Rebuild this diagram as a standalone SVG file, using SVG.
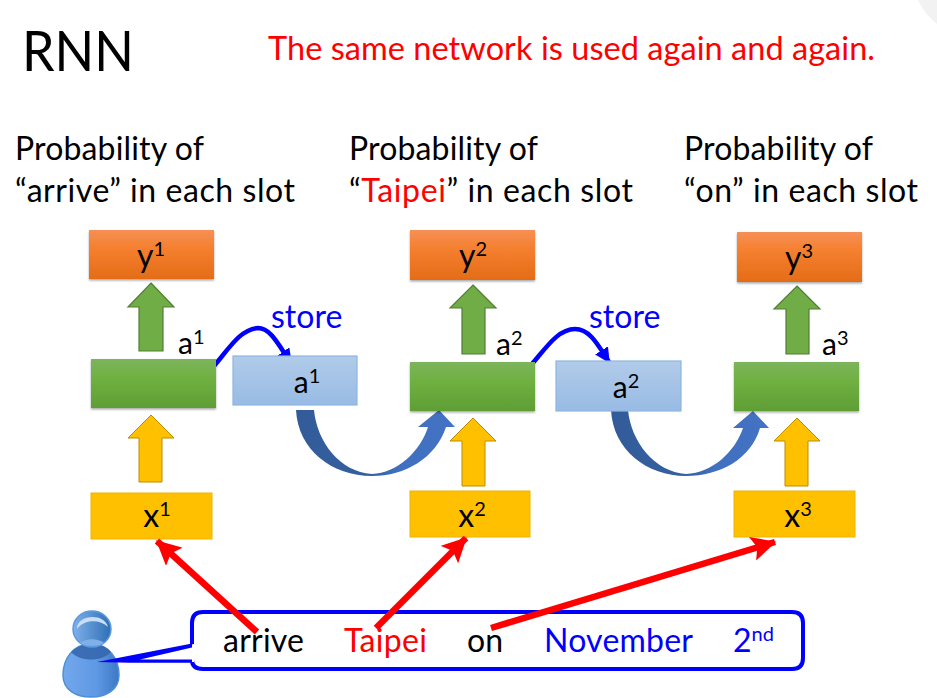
<svg xmlns="http://www.w3.org/2000/svg" width="937" height="698" viewBox="0 0 937 698">
<defs>
<linearGradient id="orange" x1="0" y1="0" x2="0" y2="1"><stop offset="0" stop-color="#f59056"/><stop offset="0.35" stop-color="#f58030"/><stop offset="1" stop-color="#e46c17"/></linearGradient>
<linearGradient id="green" x1="0" y1="0" x2="0" y2="1"><stop offset="0" stop-color="#7cb45c"/><stop offset="0.4" stop-color="#6fb040"/><stop offset="1" stop-color="#5f9e35"/></linearGradient>
<linearGradient id="blue" x1="0" y1="0" x2="0" y2="1"><stop offset="0" stop-color="#b1cbe9"/><stop offset="1" stop-color="#98bbe4"/></linearGradient>
<linearGradient id="arcg" x1="0" y1="0" x2="1" y2="0"><stop offset="0" stop-color="#335b9a"/><stop offset="0.45" stop-color="#34609f"/><stop offset="0.65" stop-color="#4070bf"/><stop offset="1" stop-color="#4472c4"/></linearGradient>
<linearGradient id="head" x1="0" y1="0" x2="1" y2="0"><stop offset="0" stop-color="#7fb0ea"/><stop offset="1" stop-color="#2f6fb5"/></linearGradient>
<linearGradient id="body" x1="0" y1="0" x2="1" y2="0"><stop offset="0" stop-color="#72a8ec"/><stop offset="0.6" stop-color="#5f98e4"/><stop offset="1" stop-color="#3c78c4"/></linearGradient>
<filter id="sh" x="-5%" y="-10%" width="110%" height="125%"><feDropShadow dx="0" dy="1.5" stdDeviation="1.2" flood-color="#000" flood-opacity="0.35"/></filter>
<marker id="bh" viewBox="0 0 10 10" refX="9" refY="5" markerWidth="3.4" markerHeight="3.4" markerUnits="strokeWidth" orient="auto"><path d="M0 0L10 5L0 10z" fill="#0000ff"/></marker>
<marker id="rh" viewBox="0 0 10 10" refX="9.5" refY="5" markerWidth="3.8" markerHeight="3.8" markerUnits="strokeWidth" orient="auto"><path d="M0 0L10 5L0 10L2 5z" fill="#ff0000"/></marker>
</defs>
<style>
text{font-family:Lato,"Open Sans","Liberation Sans",sans-serif;fill:#000}
.lbl{font-size:32px}
.nl{font-size:32px;text-anchor:middle}
.an{font-size:30px}
.sup{font-size:20px}
.o{fill:url(#orange);filter:url(#sh)}
.g{fill:url(#green);filter:url(#sh)}
.b{fill:url(#blue);stroke:#8db6e2;stroke-width:1.2}
.x{fill:#ffc000;stroke:#f0b400;stroke-width:1}
.ga{fill:#70ad47;stroke:#507e32;stroke-width:1.2}
.ya{fill:#ffc000;stroke:#bc8c00;stroke-width:1}
.st{fill:none;stroke:#0000ff;stroke-width:4.5}
.rd{fill:none;stroke:#ff0000;stroke-width:6.5}
.arc{fill:url(#arcg)}
.red{fill:#ff0000}
.bl{fill:#0000ff}
</style>
<rect width="937" height="698" fill="#fff"/>
<path d="M918 0Q925 15 937 24V0z" fill="#f2f2f2"/>
<text x="22" y="71" textLength="112" lengthAdjust="spacingAndGlyphs" style="font-size:57px">RNN</text>
<text x="268" y="60" class="red" textLength="607" style="font-size:32.5px">The same network is used again and again.</text>

<g id="caption1"><text x="15" y="160" class="lbl" textLength="189">Probability of</text><text x="15" y="202" class="lbl" textLength="280">“arrive” in each slot</text></g>
<g id="caption2"><text x="349" y="160" class="lbl" textLength="189">Probability of</text><text x="349" y="202" class="lbl" textLength="284">“<tspan class="red">Taipei</tspan>” in each slot</text></g>
<g id="caption3"><text x="684" y="160" class="lbl" textLength="189">Probability of</text><text x="684" y="202" class="lbl" textLength="234">“on” in each slot</text></g>

<g id="connectors">
<path class="ga" d="M151 283L174 307H163V351H139V307H128z"/>
<path class="ga" d="M473 285L496 308H485V354H462V308H450z"/>
<path class="ga" d="M797 286L820 309H809V354H786V309H774z"/>
<path class="ya" d="M151 415L174 438H162V482H139V438H128z"/>
<path class="ya" d="M473 418L496 441H485V486H462V441H450z"/>
<path class="ya" d="M797 418L820 441H808V486H785V441H774z"/>
<path class="arc" d="M296 410H314C317 442 340 472 372 474C397 473 420 452 428 427H418L439 410L455 427H446C436 458 405 476 372 476C332 476 298 450 296 410z"/>
<path class="arc" d="M611 410H628C631 442 655 472 686 474C712 473 735 452 743 428H733L753 411L769 428H760C751 459 720 476 686 476C647 476 613 450 611 410z"/>
<path class="st" marker-end="url(#bh)" d="M214 366C228 350 240 329 258 328C271 328 279 346 291 363"/>
<path class="st" marker-end="url(#bh)" d="M532 364C546 348 558 329 575 329C590 329 598 345 609 362"/>
</g>

<g id="y1"><rect class="o" x="89" y="230" width="125" height="49"/><text class="nl" x="151" y="267">y<tspan class="sup" dy="-11">1</tspan></text></g>
<g id="y2"><rect class="o" x="410" y="230" width="125" height="50"/><text class="nl" x="473" y="267">y<tspan class="sup" dy="-11">2</tspan></text></g>
<g id="y3"><rect class="o" x="737" y="232" width="125" height="50"/><text class="nl" x="799" y="269">y<tspan class="sup" dy="-11">3</tspan></text></g>
<g id="h1"><rect class="g" x="91" y="359" width="125" height="49"/><text x="178" y="354" class="an">a<tspan class="sup" dy="-10">1</tspan></text></g>
<g id="h2"><rect class="g" x="410" y="362" width="125" height="49"/><text x="496" y="355" class="an">a<tspan class="sup" dy="-10">2</tspan></text></g>
<g id="h3"><rect class="g" x="734" y="362" width="125" height="49"/><text x="822" y="355" class="an">a<tspan class="sup" dy="-10">3</tspan></text></g>
<g id="m1"><rect class="b" x="233" y="356" width="124" height="49"/><text class="nl an" x="307" y="393">a<tspan class="sup" dy="-10">1</tspan></text></g>
<g id="m2"><rect class="b" x="556" y="361" width="125" height="50"/><text class="nl an" x="626" y="398">a<tspan class="sup" dy="-10">2</tspan></text></g>
<text x="271" y="328" class="bl" style="font-size:32px">store</text>
<text x="589" y="328" class="bl" style="font-size:32px">store</text>
<g id="x1"><rect class="x" x="91" y="493" width="121" height="46"/><text class="nl" x="157" y="527">x<tspan class="sup" dy="-11">1</tspan></text></g>
<g id="x2"><rect class="x" x="410" y="491" width="120" height="46"/><text class="nl" x="472" y="527">x<tspan class="sup" dy="-11">2</tspan></text></g>
<g id="x3"><rect class="x" x="734" y="491" width="121" height="46"/><text class="nl" x="798" y="527">x<tspan class="sup" dy="-11">3</tspan></text></g>

<g id="speaker">
<path d="M91 644C110 644 119 660 119 675C119 690 106 697 91 697C76 697 63 690 63 675C63 660 72 644 91 644z" fill="url(#body)" stroke="#4f8fd6" stroke-width="1.5"/>
<path d="M71 652C78 646 84 644 91 644C98 644 106 646 111 652C102 662 80 662 71 652z" fill="#2f62a8" opacity="0.8"/>
<ellipse cx="92" cy="629" rx="19" ry="18" fill="url(#head)" stroke="#5c9ae0" stroke-width="1.5"/>
<path d="M77 629C76 615 104 612 108 627C100 619 84 619 77 629z" fill="#c8def6"/>
<path d="M80 643C86 638 98 638 104 643C98 647 86 647 80 643z" fill="#7fb0ea"/>
</g>
<g id="sentence">
<path d="M203 612H792Q803 612 803 623V658Q803 669 792 669H203Q192 669 192 660V645V623Q192 612 203 612z" fill="#fff" stroke="#0000ff" stroke-width="4"/>
<path d="M194 644L100 662H194z" fill="#fff"/>
<path d="M97 662L192 643.500V647.500L140 659.500H192V662.800H130z" fill="#0000ff"/>
<text x="223" y="652" class="lbl" textLength="81">arrive</text>
<text x="344" y="652" class="lbl red" textLength="83">Taipei</text>
<text x="467" y="652" class="lbl" textLength="36">on</text>
<text x="544" y="652" class="lbl bl" textLength="149">November</text>
<text x="733" y="652" class="lbl bl">2<tspan class="sup" dy="-11">nd</tspan></text>
</g>
<g id="input-connectors">
<path class="rd" marker-end="url(#rh)" d="M257 632L157 541"/>
<path class="rd" marker-end="url(#rh)" d="M376 628L466 538"/>
<path class="rd" marker-end="url(#rh)" d="M491 628L775 542"/>
</g>
</svg>
